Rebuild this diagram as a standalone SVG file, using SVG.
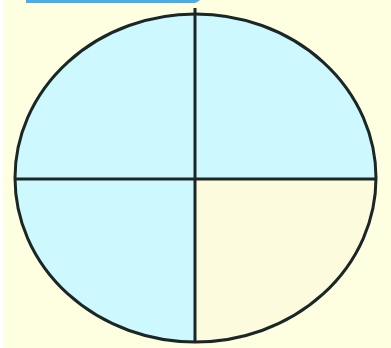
<svg xmlns="http://www.w3.org/2000/svg" width="391" height="348" viewBox="0 0 391 348">
<defs>
<style>
.ln{stroke:#1b2626;stroke-width:3;fill:none}
</style>
<clipPath id="c"><ellipse cx="195.5" cy="178" rx="180.5" ry="164"/></clipPath>
</defs>
<rect width="391" height="348" fill="#fefee0"/>
<rect x="0" y="0" width="3" height="348" fill="#ffffff"/>
<path d="M26 0 H200 Q198 2 195 3 H26 Z" fill="#4aaee6"/>
<g id="circle">
<g clip-path="url(#c)">
<rect x="0" y="0" width="391" height="348" fill="#cdf8fd"/>
<rect x="195" y="179" width="200" height="180" fill="#fdfbdd"/>
</g>
<ellipse class="ln" cx="195.5" cy="178" rx="180.5" ry="164"/>
</g>
<g id="connectors">
<line class="ln" x1="195" y1="8" x2="195" y2="343"/>
<line class="ln" x1="15" y1="179" x2="376" y2="179"/>
</g>
</svg>
